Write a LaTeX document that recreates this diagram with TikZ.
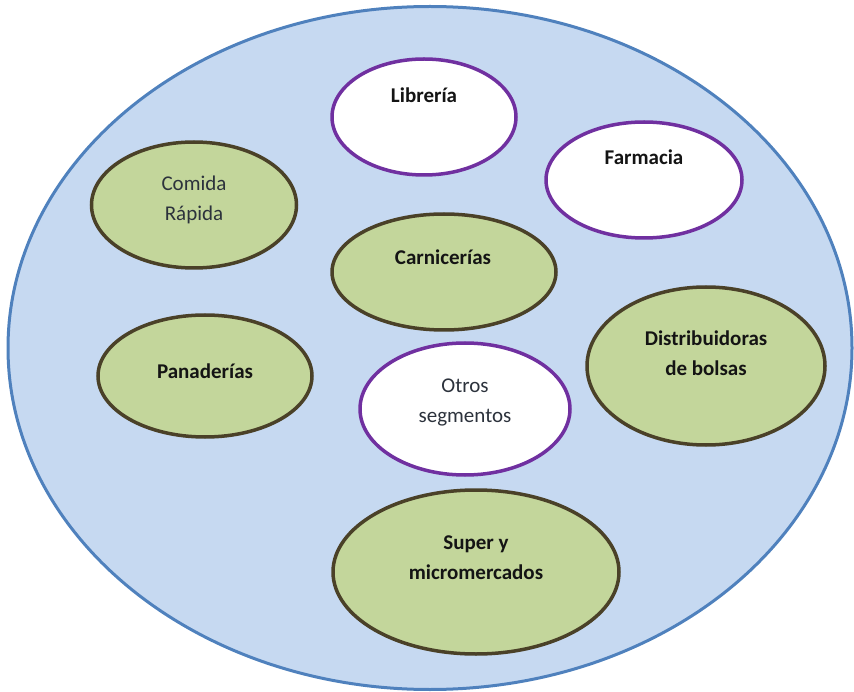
\documentclass[tikz,border=0pt]{standalone}
\usepackage{fontspec}
\setmainfont{Carlito}
\usetikzlibrary{shapes.geometric}

\definecolor{fondo}{HTML}{C6D9F1}
\definecolor{borde}{HTML}{4F81BD}
\definecolor{verde}{HTML}{C3D69B}
\definecolor{cafe}{HTML}{4A4128}
\definecolor{morado}{HTML}{7030A0}
\definecolor{texto}{HTML}{141414}
\definecolor{gris}{HTML}{2C323C}

\tikzset{
  seg/.style={ellipse, draw=cafe, line width=3.5pt, fill=verde},
  otro/.style={ellipse, draw=morado, line width=3.5pt, fill=white},
  txt/.style={text=texto, font=\fontsize{21}{30}\selectfont\bfseries, align=center},
  txtn/.style={txt, text=gris, font=\fontsize{21}{30}\selectfont}
}

\begin{document}
\begin{tikzpicture}[x=1pt,y=-1pt]
\useasboundingbox (0,0) rectangle (854,692);

% Mercado
\node[ellipse, draw=borde, line width=3pt, fill=fondo,
      minimum width=844pt, minimum height=683pt] (mercado) at (430,348) {};

% Segmentos
\node[otro, minimum width=184pt, minimum height=116pt] (libreria) at (424,117) {};
\node[otro, minimum width=196pt, minimum height=116pt] (farmacia) at (644,180) {};
\node[seg, minimum width=205pt, minimum height=126pt] (comida) at (194,205) {};
\node[seg, minimum width=224pt, minimum height=116pt] (carnicerias) at (444,272) {};
\node[seg, minimum width=214pt, minimum height=122pt] (panaderias) at (205,376) {};
\node[otro, minimum width=210pt, minimum height=132pt] (otros) at (465,409) {};
\node[seg, minimum width=238pt, minimum height=158pt] (bolsas) at (706,366) {};
\node[seg, minimum width=286pt, minimum height=164pt] (super) at (476,572) {};

% Textos
\node[txt] (t-libreria) at (424,95) {Librería};
\node[txt] (t-farmacia) at (644,157) {Farmacia};
\node[txtn] (t-comida) at (194,200) {Comida\\Rápida};
\node[txt] (t-carnicerias) at (443,257) {Carnicerías};
\node[txt] (t-panaderias) at (205,371) {Panaderías};
\node[txtn] (t-otros) at (465,402) {Otros\\segmentos};
\node[txt] (t-bolsas) at (706,353) {Distribuidoras\\de bolsas};
\node[txt] (t-super) at (476,558) {Super y\\micromercados};

\end{tikzpicture}
\end{document}
